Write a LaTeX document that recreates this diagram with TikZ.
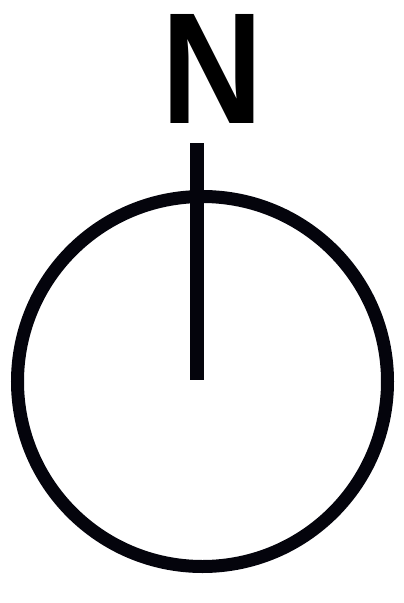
\documentclass[tikz,border=0pt]{standalone}
\usepackage{fontspec}
\setmainfont{Liberation Sans}
\usepackage{tikz}
\definecolor{DialInk}{RGB}{4,4,12}
\begin{document}
\begin{tikzpicture}[x=1pt,y=-1pt,
  dial/.style={circle,draw=DialInk,line width=13pt,minimum size=370pt,inner sep=0pt},
  letter/.style={font=\fontsize{158.5}{158.5}\selectfont\bfseries,inner sep=0pt,text=black,xscale=0.89}
]
\useasboundingbox (0,0) rectangle (404,603);
\node[dial] (ring) at (202.5,381.5) {};
\node[letter,anchor=base] (north) at (212,123) {N};
\coordinate (top) at (197,143);
\coordinate (hub) at (197,380);
\draw[draw=DialInk,line width=13.5pt] (top)--(hub);
\end{tikzpicture}
\end{document}
